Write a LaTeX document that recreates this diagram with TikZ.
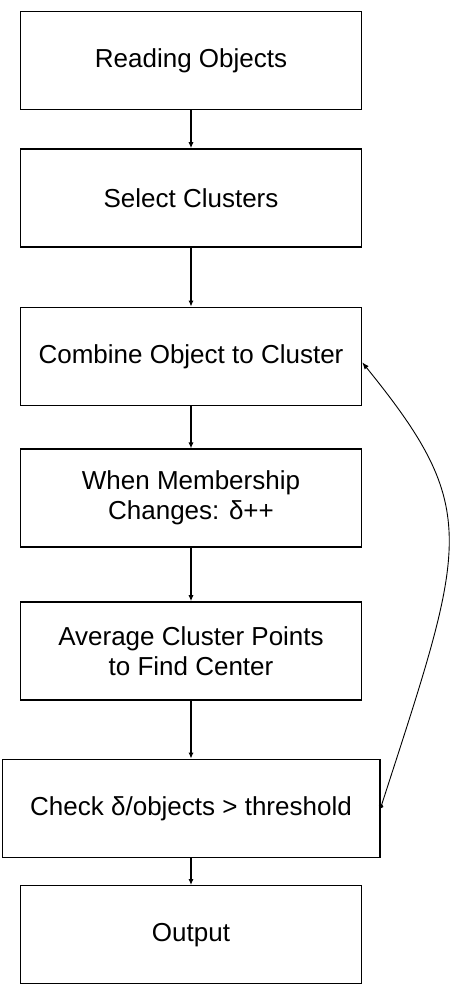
\documentclass[tikz,border=0pt]{standalone}
\usepackage{fontspec}
\setmainfont{Liberation Sans}
\usetikzlibrary{positioning,arrows.meta}

\begin{document}
\begin{tikzpicture}[
  stage/.style={draw, line width=0.7pt, minimum width=170.5pt, minimum height=49pt,
    align=center, inner sep=0pt, font=\fontsize{13}{15}\selectfont},
  flow/.style={-{Latex[length=3pt,width=2.6pt]}, line width=0.8pt},
  loopback/.style={{Circle[length=2.2pt]}-{Latex[length=3.5pt,width=2.6pt]}, line width=0.45pt}
  ]
\useasboundingbox (0,0) rectangle (237pt,-497.5pt);

\node[stage] (reading) at (95.5pt,-30.25pt) {Reading Objects};
\node[stage, below=19pt of reading] (select) {Select Clusters};
\node[stage, below=29.5pt of select] (combine) {Combine Object to Cluster};
\node[stage, below=21.2pt of combine] (membership) {When Membership\\Changes: δ++};
\node[stage, below=26.7pt of membership] (average) {Average Cluster Points\\to Find Center};
\node[stage, minimum width=188.8pt, below=29pt of average] (check) {Check δ/objects > threshold};
\node[stage, below=13.5pt of check] (output) {Output};

\draw[flow] (reading) -- (select);
\draw[flow] (select) -- (combine);
\draw[flow] (combine) -- (membership);
\draw[flow] (membership) -- (average);
\draw[flow] (average) -- (check);
\draw[flow] (check) -- (output);

% back to the cluster step
\draw[loopback] (check.east) .. controls +(43pt,133pt) and +(60pt,-74pt) .. ([yshift=-3pt]combine.east);
\end{tikzpicture}
\end{document}
